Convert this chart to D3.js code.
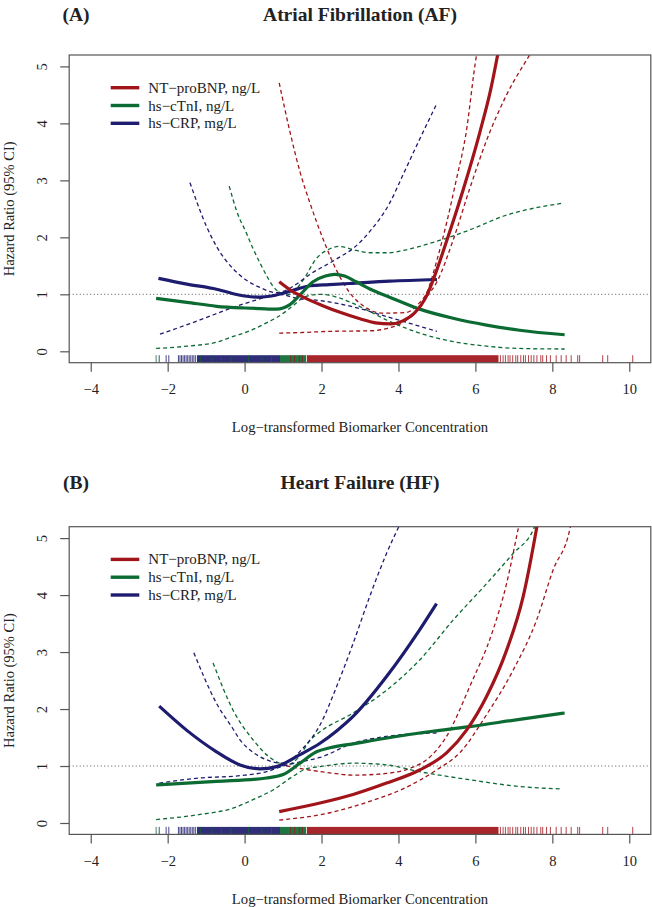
<!DOCTYPE html>
<html><head><meta charset="utf-8">
<script src="https://cdn.jsdelivr.net/npm/d3@7"></script>
<style>
html,body{margin:0;padding:0;background:#fff;}
svg{display:block;}
text{font-family:"Liberation Serif","Times New Roman",serif;fill:#222;}
</style></head>
<body>
<script>
// ---------------- DATA ----------------
const xTicks = [-4, -2, 0, 2, 4, 6, 8, 10];
const yTicks = [0, 1, 2, 3, 4, 5];
const seriesNames = ["NT\u2212proBNP, ng/L", "hs\u2212cTnI, ng/L", "hs\u2212CRP, mg/L"];
const seriesColors = ["#A0141A", "#0C6A33", "#1E1C6E"];
const panelLetters = ["(A)", "(B)"];
const panelTitles = ["Atrial Fibrillation (AF)", "Heart Failure (HF)"];
const xTitle = "Log\u2212transformed Biomarker Concentration";
const yTitle = "Hazard Ratio (95% CI)";

// Panel A: Atrial fibrillation  [log concentration, hazard ratio]
const af_bnp_fit = [[0.9,1.22],[1.2,1.07],[1.5,0.96],[2.0,0.81],[2.5,0.68],[3.0,0.57],[3.4,0.5],[3.8,0.48],[4.1,0.53],[4.4,0.66],[4.75,1.0],[4.9,1.25],[5.25,1.93],[5.68,2.83],[6.11,3.83],[6.4,4.6],[6.62,5.35]];
const af_bnp_hi  = [[0.9,4.71],[1.18,3.85],[1.44,3.15],[1.7,2.6],[2.04,1.97],[2.39,1.42],[2.73,1.03],[3.08,0.8],[3.6,0.67],[4.2,0.68],[4.5,0.82],[4.75,1.05],[5.0,1.6],[5.25,2.25],[5.5,3.0],[5.75,3.8],[6.03,5.2],[6.1,5.45]];
const af_bnp_lo  = [[0.9,0.32],[1.5,0.33],[2.2,0.35],[3.25,0.36],[3.7,0.4],[4.1,0.5],[4.45,0.7],[4.75,0.97],[5.0,1.22],[5.42,1.95],[5.85,2.85],[6.29,3.7],[6.81,4.5],[7.41,5.2],[7.5,5.3]];
const af_cnt_fit = [[-2.3,0.93],[-1.5,0.86],[-0.73,0.79],[0,0.76],[0.4,0.75],[0.83,0.74],[1.0,0.76],[1.18,0.82],[1.44,0.99],[1.78,1.22],[2.1,1.32],[2.35,1.35],[2.6,1.32],[2.9,1.22],[3.3,1.08],[3.77,0.95],[4.55,0.74],[5.42,0.58],[6.29,0.46],[7.15,0.37],[8.32,0.29]];
const af_cnt_hi  = [[-0.4,2.9],[-0.2,2.45],[0.05,2.07],[0.22,1.8],[0.4,1.55],[0.57,1.33],[0.74,1.14],[0.92,1.03],[1.1,0.99],[1.3,1.06],[1.52,1.25],[1.87,1.63],[2.22,1.8],[2.45,1.84],[2.9,1.77],[3.25,1.73],[3.77,1.73],[4.12,1.77],[4.99,1.93],[5.85,2.13],[6.72,2.37],[8.28,2.6]];
const af_cnt_lo  = [[-2.3,0.05],[-1.5,0.09],[-0.73,0.16],[-0.3,0.26],[0.14,0.36],[0.57,0.5],[0.83,0.59],[1.09,0.71],[1.26,0.8],[1.5,0.93],[1.75,0.99],[2.0,1.0],[2.4,0.95],[2.82,0.84],[3.25,0.7],[3.69,0.55],[4.55,0.32],[5.42,0.17],[6.29,0.09],[7.15,0.05],[8.32,0.04]];
const af_crp_fit = [[-2.24,1.28],[-1.5,1.18],[-0.73,1.09],[0,0.97],[0.4,0.95],[0.7,0.97],[1.0,1.02],[1.4,1.1],[1.7,1.15],[2.2,1.17],[2.73,1.19],[3.77,1.23],[5.0,1.26]];
const af_crp_hi  = [[-1.42,2.96],[-0.99,2.19],[-0.73,1.84],[-0.3,1.45],[0,1.27],[0.4,1.12],[0.8,1.03],[1.0,1.05],[1.35,1.18],[1.7,1.35],[2.39,1.62],[2.9,1.85],[3.25,2.1],[3.77,2.6],[4.12,3.1],[4.5,3.65],[5.0,4.35]];
const af_crp_lo  = [[-2.2,0.3],[-1.16,0.55],[-0.3,0.77],[0.3,0.9],[0.66,0.97],[0.9,1.0],[1.35,0.93],[1.96,0.89],[2.82,0.78],[3.69,0.61],[4.9,0.37],[5.0,0.35]];

// Panel B: Heart failure
const hf_bnp_fit = [[0.9,0.2],[1.96,0.35],[2.82,0.5],[3.69,0.7],[4.55,0.93],[5.25,1.23],[5.77,1.63],[6.29,2.22],[6.81,3.03],[7.24,3.97],[7.59,5.17],[7.65,5.4]];
const hf_bnp_hi  = [[0.9,1.03],[1.5,0.95],[2.22,0.88],[2.82,0.84],[3.69,0.87],[4.3,0.96],[4.75,1.12],[5.25,1.52],[5.85,2.39],[6.46,3.39],[6.81,4.2],[7.12,5.19],[7.2,5.45]];
const hf_bnp_lo  = [[0.9,0.05],[2.22,0.18],[3.25,0.38],[4.12,0.6],[4.99,0.93],[5.59,1.23],[6.29,1.9],[6.98,2.68],[7.59,3.56],[8.02,4.44],[8.45,5.14],[8.5,5.3]];
const hf_cnt_fit = [[-2.3,0.67],[-0.73,0.73],[0.57,0.79],[1.0,0.85],[1.44,1.05],[1.87,1.25],[2.22,1.32],[2.82,1.39],[4.55,1.58],[5.85,1.69],[7.15,1.82],[8.32,1.93]];
const hf_cnt_hi  = [[-0.82,2.81],[-0.3,1.98],[0.22,1.46],[0.74,1.11],[1.1,1.02],[1.4,1.15],[1.7,1.45],[1.96,1.6],[2.82,1.93],[3.69,2.33],[4.55,2.86],[5.42,3.56],[6.29,4.2],[6.98,4.73],[7.5,5.14],[7.6,5.3]];
const hf_cnt_lo  = [[-2.3,0.06],[-1.16,0.15],[-0.3,0.26],[0.22,0.41],[0.74,0.58],[1.26,0.82],[1.6,0.95],[1.96,0.99],[2.82,1.05],[3.69,1.02],[4.55,0.9],[5.85,0.76],[7.15,0.64],[8.19,0.6]];
const hf_crp_fit = [[-2.22,2.05],[-1.51,1.63],[-0.73,1.25],[-0.12,1.02],[0.4,0.95],[0.83,0.99],[1.44,1.2],[1.96,1.4],[2.4,1.62],[2.82,1.87],[3.69,2.57],[4.55,3.39],[4.99,3.85]];
const hf_crp_hi  = [[-1.32,2.99],[-0.73,2.1],[-0.3,1.65],[-0.12,1.46],[0.2,1.25],[0.57,1.11],[1.0,1.05],[1.5,1.3],[1.96,1.72],[2.39,2.39],[2.82,3.15],[3.25,3.97],[3.69,4.73],[4.08,5.3]];
const hf_crp_lo  = [[-2.22,0.7],[-1.16,0.79],[-0.12,0.83],[0.57,0.9],[1.0,1.0],[1.5,1.08],[1.96,1.15],[2.82,1.4],[3.69,1.52],[4.99,1.58]];

// Rug (observed concentrations): dense bands [from,to] and individual ticks
const rug_crp_bands = [[-1.24, 0.92]];
const rug_crp_ticks = [-2.22,-2.04,-1.97,-1.72,-1.68,-1.64,-1.6,-1.56,-1.52,-1.48,-1.44,-1.4,-1.36,-1.32,-1.28];
const rug_cnt_bands = [[0.92, 1.6]];
const rug_cnt_ticks = [-2.3,-1.15,-0.85,-0.6,-0.35,0.1,0.45,0.7];
const rug_bnp_bands = [[1.62, 6.6]];
const rug_bnp_ticks = [1.2,1.3,1.42,1.5,6.65,6.72,6.78,6.85,6.9,6.97,7.05,7.1,7.18,7.25,7.3,7.38,7.45,7.52,7.6,7.7,7.75,7.85,7.95,8.1,8.23,8.36,8.49,8.66,8.71,9.31,9.44,10.09];

// ---------------- DRAW ----------------
const W = 652, H = 907;
const svg = d3.select("body").append("svg").attr("width", W).attr("height", H);
const FONT = '"Liberation Serif","Times New Roman",serif';

const panels = [
  { top: 55, bottom: 362.7, titleY: 21,
    series: [[af_bnp_fit, af_bnp_lo, af_bnp_hi],[af_cnt_fit, af_cnt_lo, af_cnt_hi],[af_crp_fit, af_crp_lo, af_crp_hi]] },
  { top: 526.7, bottom: 834.4, titleY: 488.5,
    series: [[hf_bnp_fit, hf_bnp_lo, hf_bnp_hi],[hf_cnt_fit, hf_cnt_lo, hf_cnt_hi],[hf_crp_fit, hf_crp_lo, hf_crp_hi]] }
];
const rugs = [
  {bands: rug_crp_bands, ticks: rug_crp_ticks, color: seriesColors[2]},
  {bands: rug_cnt_bands, ticks: rug_cnt_ticks, color: seriesColors[1]},
  {bands: rug_bnp_bands, ticks: rug_bnp_ticks, color: seriesColors[0]}
];

const xScale = d3.scaleLinear().domain([-4.56, 10.56]).range([69.2, 650.8]);

panels.forEach((p, pi) => {
  const y = d3.scaleLinear().domain([-0.2, 5.2]).range([p.bottom, p.top]);
  const g = svg.append("g");
  const clipId = "clip" + pi;
  svg.append("clipPath").attr("id", clipId).append("rect")
    .attr("x", xScale.range()[0]).attr("y", p.top)
    .attr("width", xScale.range()[1] - xScale.range()[0]).attr("height", p.bottom - p.top);

  // titles
  g.append("text").attr("x", 76).attr("y", p.titleY).attr("text-anchor", "middle")
    .style("font-size", "19.5px").style("font-weight", "bold").text(panelLetters[pi]);
  g.append("text").attr("x", 360).attr("y", p.titleY).attr("text-anchor", "middle")
    .style("font-size", "19.5px").style("font-weight", "bold").text(panelTitles[pi]);

  const plot = g.append("g").attr("clip-path", `url(#${clipId})`);

  // reference line HR = 1
  plot.append("line").attr("x1", xScale.range()[0]).attr("x2", xScale.range()[1])
    .attr("y1", y(1)).attr("y2", y(1))
    .attr("stroke", "#555").attr("stroke-width", 1).attr("stroke-dasharray", "1,2.5");

  const line = d3.line().x(d => xScale(d[0])).y(d => y(d[1])).curve(d3.curveMonotoneX);

  // confidence bands (dashed)
  p.series.forEach((s, si) => {
    [s[1], s[2]].forEach(ci => {
      plot.append("path").attr("d", line(ci)).attr("fill", "none")
        .attr("stroke", seriesColors[si]).attr("stroke-width", 1.3)
        .attr("stroke-dasharray", "4,3");
    });
  });
  // fitted curves (solid), drawn blue, green, red
  [2, 1, 0].forEach(si => {
    plot.append("path").attr("d", line(p.series[si][0])).attr("fill", "none")
      .attr("stroke", seriesColors[si]).attr("stroke-width", 3.2)
      .attr("stroke-linecap", "butt");
  });

  // rug
  const rugTop = p.bottom - 7.5;
  rugs.forEach(r => {
    r.bands.forEach(b => {
      plot.append("rect").attr("x", xScale(b[0])).attr("y", rugTop)
        .attr("width", xScale(b[1]) - xScale(b[0])).attr("height", p.bottom - rugTop)
        .attr("fill", r.color).attr("opacity", 0.92);
    });
    r.ticks.forEach(t => {
      plot.append("line").attr("x1", xScale(t)).attr("x2", xScale(t))
        .attr("y1", rugTop).attr("y2", p.bottom)
        .attr("stroke", r.color).attr("stroke-width", 1).attr("opacity", 0.8);
    });
  });

  // box
  g.append("rect").attr("x", xScale.range()[0]).attr("y", p.top)
    .attr("width", xScale.range()[1] - xScale.range()[0]).attr("height", p.bottom - p.top)
    .attr("fill", "none").attr("stroke", "#555").attr("stroke-width", 1.2);

  // x axis
  const xAxis = d3.axisBottom(xScale).tickValues(xTicks).tickSize(9).tickPadding(12)
    .tickFormat(d => d < 0 ? "\u2212" + Math.abs(d) : String(d));
  const xa = g.append("g").attr("transform", `translate(0,${p.bottom})`).call(xAxis);
  xa.select(".domain").remove();
  xa.selectAll(".tick line").attr("stroke", "#555").attr("stroke-width", 1.2);
  xa.selectAll(".tick text").style("font-family", FONT).style("font-size", "14.5px").attr("fill", "#222");

  // y axis
  const yAxis = d3.axisLeft(y).tickValues(yTicks).tickSize(9).tickFormat(d3.format("d"));
  const ya = g.append("g").attr("transform", `translate(${xScale.range()[0]},0)`).call(yAxis);
  ya.select(".domain").remove();
  ya.selectAll(".tick line").attr("stroke", "#555").attr("stroke-width", 1.2);
  ya.selectAll(".tick text")
    .attr("x", null).attr("dy", null)
    .attr("text-anchor", "middle").attr("dominant-baseline", "central")
    .attr("transform", "translate(-27,0) rotate(-90)")
    .style("font-family", FONT).style("font-size", "14.5px").attr("fill", "#222");

  // axis titles
  g.append("text").attr("x", 360).attr("y", p.bottom + 64.5)
    .attr("text-anchor", "middle").attr("dominant-baseline", "central")
    .style("font-size", "14.7px").text(xTitle);
  const cy = (p.top + p.bottom) / 2;
  g.append("text").attr("transform", `translate(9,${cy}) rotate(-90)`)
    .attr("text-anchor", "middle").attr("dominant-baseline", "central")
    .style("font-size", "14.5px").text(yTitle);

  // legend
  const lg = g.append("g");
  seriesNames.forEach((name, i) => {
    const ly = p.top + 32.7 + i * 17.8;
    lg.append("line").attr("x1", 110.7).attr("x2", 139.3).attr("y1", ly).attr("y2", ly)
      .attr("stroke", seriesColors[i]).attr("stroke-width", 3.4);
    lg.append("text").attr("x", 148.3).attr("y", ly).attr("dominant-baseline", "central")
      .style("font-size", "15px").text(name);
  });
});
</script>
</body></html>
